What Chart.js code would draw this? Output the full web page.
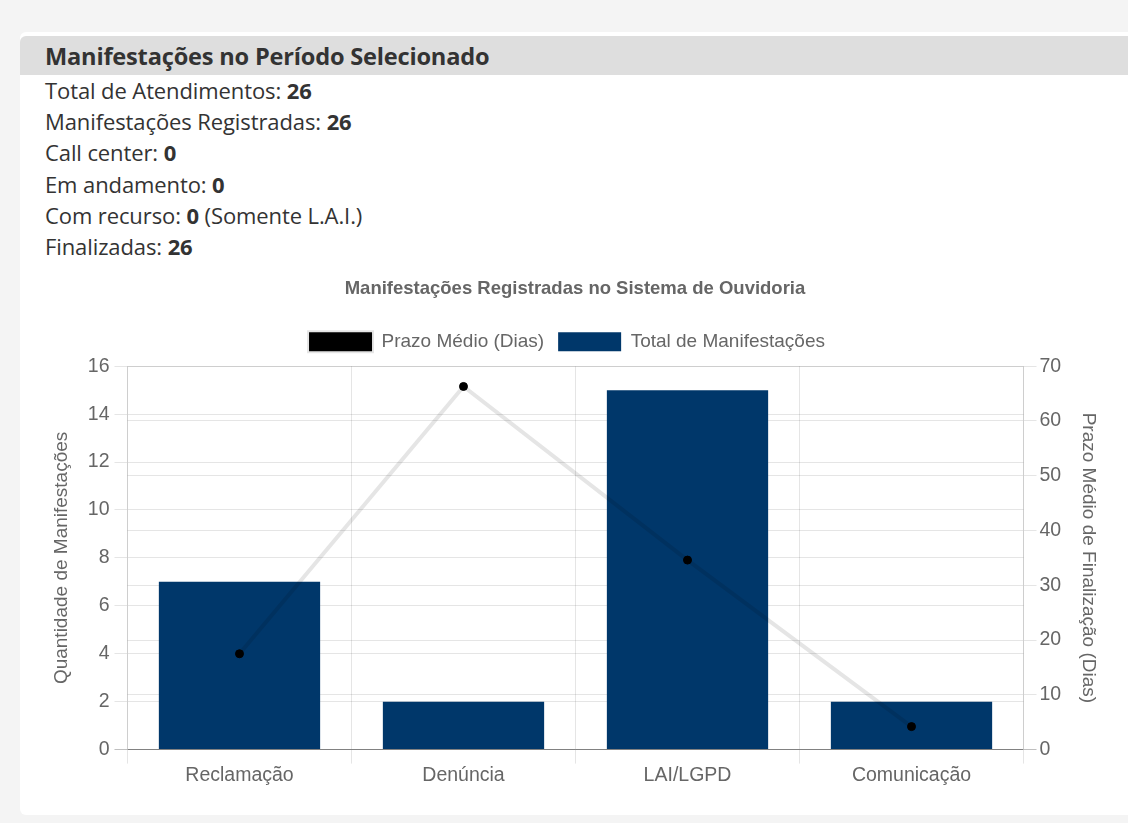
<!DOCTYPE html>
<html>
<head>
<meta charset="utf-8">
<script src="https://cdn.jsdelivr.net/npm/chart.js@4"></script>
<style>
  html, body { margin: 0; padding: 0; background: #f4f4f4; }
  body { width: 1128px; height: 823px; position: relative; overflow: hidden; font-family: "Open Sans", sans-serif; color: #333; }
  .panel { position: absolute; left: 20px; top: 32px; width: 1120px; height: 783px; background: #fff; border-radius: 6px; }
  .panel-head { height: 39px; background: #dedede; border-radius: 6px 0 0 0; margin-top: 4px; padding-left: 25px; font-weight: bold; font-size: 23.6px; line-height: 41px; color: #333; letter-spacing: -0.2px; }
  .stats { padding-left: 25px; font-size: 22px; line-height: 31.2px; margin-top: 0px; letter-spacing: -0.1px; }
  .chart-box { position: absolute; left: 20px; top: 266px; width: 1100px; height: 534px; }
</style>
</head>
<body>
<div class="panel">
  <div class="panel-head">Manifestações no Período Selecionado</div>
  <div class="stats">
    <div>Total de Atendimentos: <b>26</b></div>
    <div>Manifestações Registradas: <b>26</b></div>
    <div>Call center: <b>0</b></div>
    <div>Em andamento: <b>0</b></div>
    <div>Com recurso: <b>0</b> (Somente L.A.I.)</div>
    <div>Finalizadas: <b>26</b></div>
  </div>
</div>
<div class="chart-box"><canvas id="chart"></canvas></div>
<script>
  const categories = ['Reclamação', 'Denúncia', 'LAI/LGPD', 'Comunicação'];
  const totalManifestacoes = [7, 2, 15, 2];
  const prazoMedioDias = [17.5, 66.3, 34.6, 4.2];
  const leftTicks = { min: 0, max: 16, step: 2 };
  const rightTicks = { min: 0, max: 70, step: 10 };

  const textColor = '#666';
  const gridColor = 'rgba(0,0,0,0.1)';
  Chart.defaults.font.family = '"Liberation Sans", Arial, sans-serif';
  Chart.defaults.color = textColor;

  const tickFs = 19.5;
  const labelFs = 19;

  // a bit more room under the legend, and nudge it left like the original
  const legendTweak = {
    id: 'legendTweak',
    beforeInit(chart) {
      const fit = chart.legend.fit;
      chart.legend.fit = function () {
        fit.bind(chart.legend)();
        this.height += 5;
      };
    },
    afterLayout(chart) {
      chart.legend.left -= 8;
      chart.legend.right -= 8;
    }
  };

  const ctx = document.getElementById('chart').getContext('2d');
  new Chart(ctx, {
    type: 'bar',
    data: {
      labels: categories,
      datasets: [
        {
          type: 'line',
          label: 'Prazo Médio (Dias)',
          data: prazoMedioDias,
          yAxisID: 'y1',
          backgroundColor: '#000',
          borderColor: 'rgba(0,0,0,0.1)',
          borderWidth: 4,
          pointBackgroundColor: '#000',
          pointBorderColor: '#000',
          pointRadius: 4,
          pointBorderWidth: 1,
          fill: false,
          tension: 0
        },
        {
          label: 'Total de Manifestações',
          data: totalManifestacoes,
          yAxisID: 'y',
          backgroundColor: '#00376a',
          borderWidth: 0
        }
      ]
    },
    plugins: [legendTweak],
    options: {
      responsive: true,
      maintainAspectRatio: false,
      animation: false,
      layout: { padding: { left: 26, right: 16, top: 0, bottom: 13 } },
      plugins: {
        title: {
          display: true,
          text: 'Manifestações Registradas no Sistema de Ouvidoria',
          color: textColor,
          font: { size: 18.5, weight: 'bold' },
          padding: { top: 12, bottom: 18 }
        },
        legend: {
          labels: {
            boxWidth: 63,
            boxHeight: 19,
            font: { size: labelFs },
            color: textColor,
            padding: 14
          }
        },
        tooltip: { enabled: false }
      },
      scales: {
        x: {
          grid: { color: gridColor, tickLength: 14, offset: true },
          border: { color: gridColor },
          ticks: { font: { size: tickFs }, color: textColor, padding: 0 }
        },
        y: {
          position: 'left',
          min: leftTicks.min,
          max: leftTicks.max,
          ticks: { stepSize: leftTicks.step, font: { size: tickFs }, color: textColor, padding: 5 },
          grid: {
            color: c => (c.tick && c.tick.value === 0) ? 'rgba(0,0,0,0.25)' : gridColor,
            tickLength: 13
          },
          border: { color: gridColor },
          title: { display: true, text: 'Quantidade de Manifestações', font: { size: labelFs }, color: textColor, padding: { top: 4, bottom: 10 } }
        },
        y1: {
          position: 'right',
          min: rightTicks.min,
          max: rightTicks.max,
          ticks: { stepSize: rightTicks.step, font: { size: tickFs }, color: textColor, padding: 3 },
          grid: {
            color: c => (c.tick && c.tick.value === 0) ? 'rgba(0,0,0,0.25)' : gridColor,
            tickLength: 13
          },
          border: { color: gridColor },
          title: { display: true, text: 'Prazo Médio de Finalização (Dias)', font: { size: labelFs }, color: textColor, padding: { top: 4, bottom: 13 } }
        }
      }
    }
  });
</script>
</body>
</html>
